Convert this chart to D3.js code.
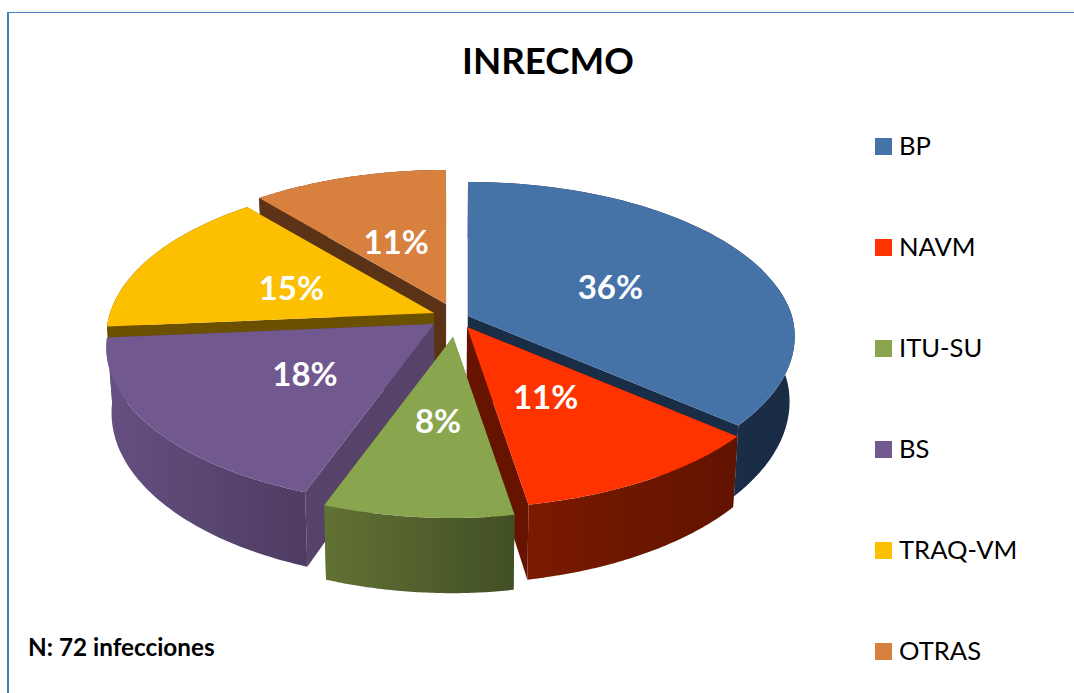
<!DOCTYPE html>
<html><head><meta charset="utf-8">
<script src="https://cdn.jsdelivr.net/npm/d3@7/dist/d3.min.js"></script>
<style>html,body{margin:0;padding:0;background:#fff}svg{display:block}text{font-family:Lato,Carlito,sans-serif}</style>
</head><body><svg id="c" width="1074" height="693"></svg>
<script>
const categories = ["BP","NAVM","ITU-SU","BS","TRAQ-VM","OTRAS"];
const counts = [26,8,6,13,11,8];
const percentLabels = ["36%","11%","8%","18%","15%","11%"];
const topColors = ["#4572A7","#FF3300","#89A54E","#71588F","#FDC000","#D8813E"];
const wallStart = ["#1b2f4b","#7a1a00","#627234","#655081","#6b5000","#5c3317"];
const wallEnd   = ["#1a2c45","#611300","#414f25","#4e3c62","#6b5000","#5c3317"];
const cutWall   = ["#1a2d47","#661400","#4d5c2a","#57426a","#6b5000","#5a3216"];
const drawOrder = [5,4,0,3,1,2];
const labelRadius = [0.5,0.47,0.49,0.48,0.49,0.48];
const centre = {x:452,y:320};
const shiftX = [16,15,1,-18,-18,-6];
const shiftY = [-4,7,17,4,-7,-16];
const RX=324, RY=154, K=0.149, DEPTH=64, CONVERGE=0.985, SHEAR=6.5;

const svg = d3.select("#c");
const defs = svg.append("defs");
const color = d3.scaleOrdinal(categories, topColors);
const pie = d3.pie().sort(null).value(d=>d).startAngle(0).endAngle(2*Math.PI);
const arcs = pie(counts);
const line = d3.line();

function topPt(i,a,r){
  const u=Math.sin(a)*r, v=-Math.cos(a)*r, q=1-K*v;
  const skew=(u>0&&v>0)?SHEAR*Math.min(1,u*4)*v:0;
  return [centre.x+shiftX[i]+RX*u/q-skew, centre.y+shiftY[i]+RY*v/q, 1/q];
}
function botPt(i,a,r){
  const p=topPt(i,a,r);
  return [centre.x+(p[0]-centre.x)*CONVERGE, p[1]+DEPTH*p[2]];
}
const xy=p=>[p[0],p[1]];

// frame
svg.append("line").attr("x1",8).attr("x2",8).attr("y1",12).attr("y2",693).attr("stroke","#4a7ebb").attr("stroke-width",2);
svg.append("line").attr("x1",7).attr("x2",1074).attr("y1",12.5).attr("y2",12.5).attr("stroke","#4a7ebb").attr("stroke-width",1.2);

const g = svg.append("g");
drawOrder.forEach(i=>{
  const d=arcs[i], a0=d.startAngle, a1=d.endAngle;
  const angs=d3.range(0,61).map(t=>a0+(a1-a0)*t/60);
  const topRim=angs.map(a=>xy(topPt(i,a,1)));
  const botRim=angs.map(a=>botPt(i,a,1));
  const grad=defs.append("linearGradient").attr("id","w"+i).attr("gradientUnits","userSpaceOnUse")
    .attr("x1",d3.min(topRim,p=>p[0])).attr("x2",d3.max(topRim,p=>p[0])).attr("y1",0).attr("y2",0);
  grad.append("stop").attr("offset",0).attr("stop-color",wallStart[i]);
  grad.append("stop").attr("offset",1).attr("stop-color",wallEnd[i]);
  const s=g.append("g").attr("class","slice");
  [a0,a1].forEach(a=>{
    s.append("path").attr("d",line([xy(topPt(i,a,0)),xy(topPt(i,a,1)),botPt(i,a,1),botPt(i,a,0)])+"Z").attr("fill",cutWall[i]);
  });
  s.append("path").attr("d",line(topRim.concat(botRim.slice().reverse()))+"Z").attr("fill","url(#w"+i+")");
  s.append("path").attr("d",line([xy(topPt(i,a0,0))].concat(topRim))+"Z").attr("fill",color(categories[i]));
});

// slice labels
svg.append("g").selectAll("text").data(arcs).join("text")
  .attr("x",(d,i)=>topPt(i,(d.startAngle+d.endAngle)/2,labelRadius[i])[0])
  .attr("y",(d,i)=>topPt(i,(d.startAngle+d.endAngle)/2,labelRadius[i])[1]+15)
  .attr("text-anchor","middle").attr("font-size",33).attr("font-weight",700).attr("fill","#fff")
  .text((d,i)=>percentLabels[i]);

// title
svg.append("text").attr("x",548).attr("y",74).attr("text-anchor","middle").attr("font-size",36.7).attr("font-weight",700).attr("fill","#000").text("INRECMO");
svg.append("text").attr("x",28).attr("y",656).attr("font-size",24.3).attr("font-weight",700).attr("fill","#000").text("N: 72 infecciones");

// legend
const ly=d3.scalePoint(categories,[138,643]);
const leg=svg.append("g").selectAll("g").data(categories).join("g").attr("transform",d=>`translate(875,${ly(d)})`);
leg.append("rect").attr("width",17).attr("height",17).attr("fill",d=>color(d));
leg.append("text").attr("x",24).attr("y",16.5).attr("font-size",25.6).attr("fill","#000").text(d=>d);
</script></body></html>
